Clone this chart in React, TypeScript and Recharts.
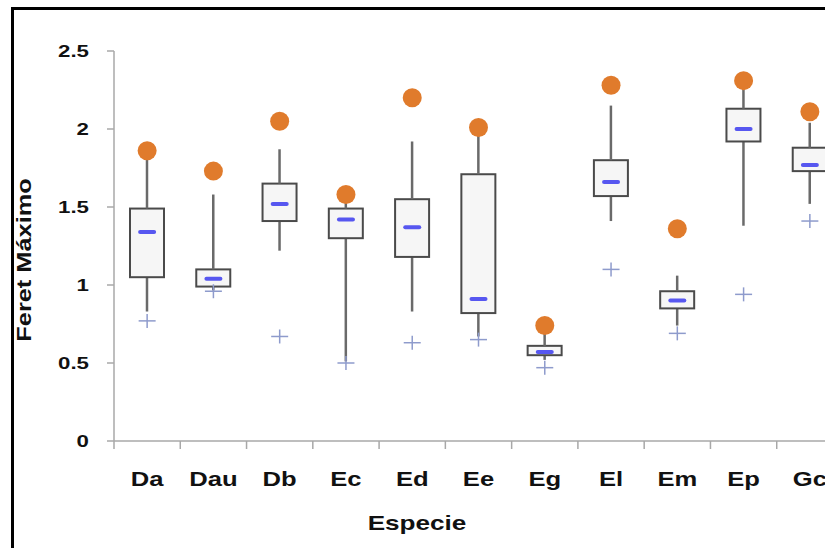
import { Bar, ComposedChart, Label, Scatter, XAxis, YAxis } from 'recharts'

const especies = ['Da', 'Dau', 'Db', 'Ec', 'Ed', 'Ee', 'Eg', 'El', 'Em', 'Ep', 'Gc']
const maximos = [1.86, 1.73, 2.05, 1.58, 2.2, 2.01, 0.74, 2.28, 1.36, 2.31, 2.11]
const bigoteSup = [1.84, 1.58, 1.87, 1.57, 1.92, 1.99, 0.7, 2.15, 1.06, 2.28, 2.04]
const q3 = [1.49, 1.1, 1.65, 1.49, 1.55, 1.71, 0.61, 1.8, 0.96, 2.13, 1.88]
const medianas = [1.34, 1.04, 1.52, 1.42, 1.37, 0.91, 0.57, 1.66, 0.9, 2.0, 1.77]
const q1 = [1.05, 0.99, 1.41, 1.3, 1.18, 0.82, 0.55, 1.57, 0.85, 1.92, 1.73]
const bigoteInf = [0.83, 0.965, 1.22, 0.51, 0.83, 0.67, 0.52, 1.41, 0.74, 1.38, 1.52]
const minimos = [0.77, 0.96, 0.67, 0.5, 0.63, 0.65, 0.47, 1.1, 0.69, 0.94, 1.41]
const yTicks = [0, 0.5, 1, 1.5, 2, 2.5]

const rows = especies.map((name, i) => ({
  name,
  base: bigoteInf[i],
  lowW: q1[i] - bigoteInf[i],
  box: q3[i] - q1[i],
  highW: bigoteSup[i] - q3[i],
  median: medianas[i],
  max: maximos[i],
  min: minimos[i],
}))

// layout
const PLOT_LEFT = 114
const PLOT_RIGHT = 843
const PLOT_BOTTOM = 441
const BAND = (PLOT_RIGHT - PLOT_LEFT) / especies.length
const FONT = '"Liberation Sans", Arial, sans-serif'
const AXIS = '#a8a8a8'

const Whisker = (p: any) => (
  <line x1={p.x + p.width / 2} x2={p.x + p.width / 2} y1={p.y} y2={p.y + p.height} stroke="#6a6a6a" strokeWidth={2.5} />
)

const BoxRect = (p: any) => (
  <rect x={p.x} y={p.y} width={p.width} height={p.height} fill="#f6f6f6" stroke="#4a4a4a" strokeWidth={2} />
)

const MedianDash = (p: any) => (
  <line x1={p.cx - 7} x2={p.cx + 7} y1={p.cy} y2={p.cy} stroke="#5757f0" strokeWidth={4} strokeLinecap="round" />
)

const MaxDot = (p: any) => <circle cx={p.cx} cy={p.cy} r={9.5} fill="#e07b2c" />

const MinCross = (p: any) => (
  <g stroke="#8e9bcc" strokeWidth={1.5}>
    <line x1={p.cx - 8.5} x2={p.cx + 8.5} y1={p.cy} y2={p.cy} />
    <line x1={p.cx} x2={p.cx} y1={p.cy - 7} y2={p.cy + 7} />
  </g>
)

const YTick = (p: any) => (
  <g transform={`translate(${p.x},${p.y}) scale(1.35,1)`}>
    <text x={0} y={0} dy="0.36em" textAnchor="end" fontFamily={FONT} fontWeight="bold" fontSize={16.5} fill="#111">
      {p.payload.value}
    </text>
  </g>
)

const XTick = (p: any) => (
  <g>
    <line x1={p.x - BAND / 2} x2={p.x - BAND / 2} y1={PLOT_BOTTOM} y2={PLOT_BOTTOM + 8} stroke={AXIS} strokeWidth={1.5} />
    <g transform={`translate(${p.x},486) scale(1.28,1)`}>
      <text x={0} y={0} textAnchor="middle" fontFamily={FONT} fontWeight="bold" fontSize={20} fill="#111">
        {p.payload.value}
      </text>
    </g>
  </g>
)

export default function App() {
  return (
    <div style={{ position: 'absolute', left: 0, top: 0, width: 825, height: 548, overflow: 'hidden', background: '#fff' }}>
      <div
        style={{
          position: 'absolute',
          left: 11,
          top: 7,
          width: 900,
          height: 700,
          border: '3px solid #000',
          boxSizing: 'border-box',
        }}
      />
      <div style={{ position: 'absolute', left: 0, top: 0 }}>
        <ComposedChart width={860} height={548} data={rows} margin={{ top: 51, right: 17, bottom: 0, left: 0 }}>
          <XAxis
            dataKey="name"
            height={107}
            axisLine={{ stroke: AXIS, strokeWidth: 1.5 }}
            tickLine={false}
            tick={<XTick />}
            interval={0}
          >
            <Label
              content={() => (
                <g transform="translate(417,530) scale(1.34,1)">
                  <text x={0} y={0} textAnchor="middle" fontFamily={FONT} fontWeight="bold" fontSize={19.5} fill="#111">
                    Especie
                  </text>
                </g>
              )}
            />
          </XAxis>
          <YAxis
            width={114}
            domain={[0, 2.5]}
            ticks={yTicks}
            axisLine={{ stroke: AXIS, strokeWidth: 1.5 }}
            tickLine={{ stroke: AXIS, strokeWidth: 1.5 }}
            tickSize={7}
            tickMargin={18}
            tick={<YTick />}
          >
            <Label
              content={() => (
                <g transform="translate(31,260) rotate(-90) scale(1.3,1)">
                  <text x={0} y={0} textAnchor="middle" fontFamily={FONT} fontWeight="bold" fontSize={19.5} fill="#111">
                    Feret Máximo
                  </text>
                </g>
              )}
            />
          </YAxis>
          <Bar dataKey="base" stackId="b" barSize={34} fill="transparent" isAnimationActive={false} />
          <Bar dataKey="lowW" stackId="b" barSize={34} shape={<Whisker />} isAnimationActive={false} />
          <Bar dataKey="box" stackId="b" barSize={34} shape={<BoxRect />} isAnimationActive={false} />
          <Bar dataKey="highW" stackId="b" barSize={34} shape={<Whisker />} isAnimationActive={false} />
          <Scatter dataKey="min" shape={<MinCross />} isAnimationActive={false} />
          <Scatter dataKey="max" shape={<MaxDot />} isAnimationActive={false} />
          <Scatter dataKey="median" shape={<MedianDash />} isAnimationActive={false} />
        </ComposedChart>
      </div>
    </div>
  )
}
